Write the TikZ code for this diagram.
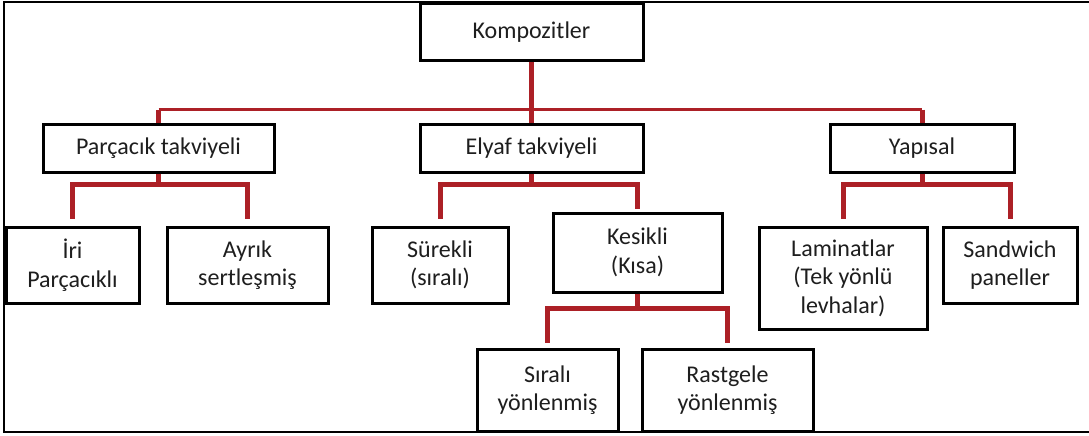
\documentclass[tikz,border=0pt]{standalone}
\usepackage{fontspec}
\setmainfont{Carlito}
\definecolor{linkred}{RGB}{172,32,38}
\definecolor{txt}{RGB}{30,30,30}
\begin{document}
\begin{tikzpicture}[x=1pt,y=-1pt,
  box/.style={draw=black, line width=3pt, fill=white, align=center, inner sep=0pt,
    text=txt, font=\fontsize{24}{28.5}\selectfont},
  thickl/.style={draw=linkred, line width=5pt},
  thinl/.style={draw=linkred, line width=2.6pt}]
\useasboundingbox (0,0) rectangle (1089,436);
\fill[white] (0,0) rectangle (1089,436);
\draw[line width=2pt] (1089,2) -- (4,2) -- (4,432) -- (1089,432);

% nodes
\node[box, minimum width=223pt, minimum height=57pt] (komp) at (531.5,32.5) {Kompozitler};
\node[box, minimum width=231pt, minimum height=48pt] (parc) at (158.5,148) {Parçacık takviyeli};
\node[box, minimum width=223pt, minimum height=48pt] (elyaf) at (531.5,148) {Elyaf takviyeli};
\node[box, minimum width=184pt, minimum height=48pt] (yap) at (922,148) {Yapısal};
\node[box, minimum width=133pt, minimum height=76pt] (iri) at (72.5,265) {İri\\Parçacıklı};
\node[box, minimum width=161pt, minimum height=76pt] (ayrik) at (247.5,265) {Ayrık\\sertleşmiş};
\node[box, minimum width=136pt, minimum height=76pt] (surekli) at (440,265) {Sürekli\\(sıralı)};
\node[box, minimum width=169pt, minimum height=79pt] (kesikli) at (637.5,252.5) {Kesikli\\(Kısa)};
\node[box, minimum width=168pt, minimum height=102pt] (lam) at (843,278) {Laminatlar\\(Tek yönlü\\levhalar)};
\node[box, minimum width=134pt, minimum height=76pt] (sand) at (1010,265) {Sandwich\\paneller};
\node[box, minimum width=141pt, minimum height=82pt] (sirali) at (547.5,390) {Sıralı\\yönlenmiş};
\node[box, minimum width=171pt, minimum height=82pt] (rast) at (727.5,390) {Rastgele\\yönlenmiş};

% level 0 -> level 1
\coordinate (topbus) at ([yshift=-47pt]komp.south);
\draw[thinl] (parc.north |- topbus) -- (yap.north |- topbus);
\draw[thickl] (komp.south) -- (topbus);
\draw[thickl] (parc.north |- topbus) -- (parc.north);
\draw[thickl] (elyaf.north |- topbus) -- (elyaf.north);
\draw[thickl] (yap.north |- topbus) -- (yap.north);

% level 1 -> level 2
\draw[thickl] (parc.south) -- ([yshift=-11pt]parc.south);
\draw[thickl] ([yshift=7pt]iri.north) |- ([yshift=-11pt]parc.south) -| ([yshift=7pt]ayrik.north);

\draw[thickl] (elyaf.south) -- ([yshift=-11pt]elyaf.south);
\draw[thickl] ([yshift=7pt]surekli.north) |- ([yshift=-11pt]elyaf.south) -| ([yshift=3pt]kesikli.north);

\draw[thickl] (yap.south) -- ([yshift=-11pt]yap.south);
\draw[thickl] ([yshift=7pt]lam.north) |- ([yshift=-11pt]yap.south) -| ([yshift=7pt]sand.north);

% kesikli -> level 3
\draw[thickl] (kesikli.south) -- ([yshift=-15pt]kesikli.south);
\draw[thickl] ([yshift=5pt]sirali.north) |- ([yshift=-15pt]kesikli.south) -| ([yshift=5pt]rast.north);
\end{tikzpicture}
\end{document}
